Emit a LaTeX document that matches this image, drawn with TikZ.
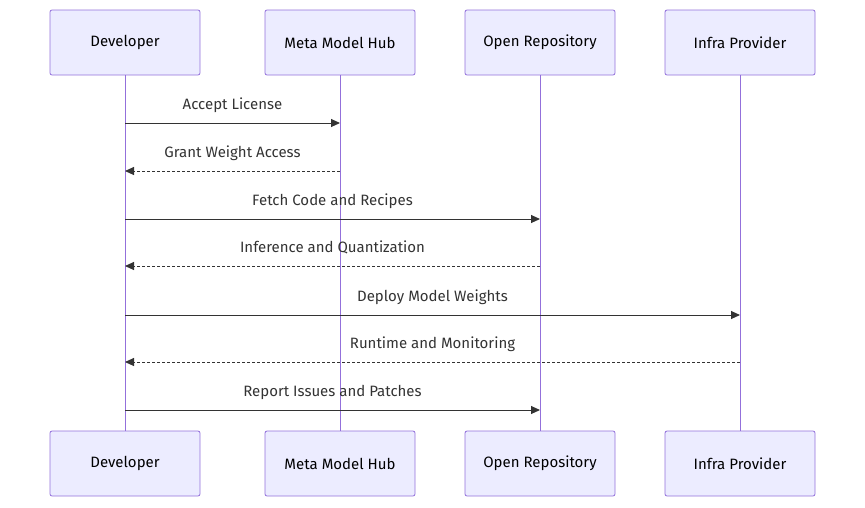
\documentclass[tikz,border=0pt]{standalone}
\usepackage{fontspec}
\setmainfont{Fira Sans}
\usetikzlibrary{arrows.meta,calc}
\definecolor{boxfill}{HTML}{ECECFF}
\definecolor{boxdraw}{HTML}{9370DB}
\definecolor{ink}{HTML}{333333}
\begin{document}
\begin{tikzpicture}[x=1pt,y=-1pt,
  actor/.style={draw=boxdraw,fill=boxfill,rounded corners=2pt,minimum width=150pt,minimum height=65pt,text=black,font=\fontsize{15}{18}\selectfont,line width=0.8pt},
  life/.style={draw=boxdraw,line width=1pt},
  msg/.style={draw=ink,line width=1pt,-{Triangle[length=9pt,width=8pt]}},
  reply/.style={msg,dash pattern=on 3pt off 2pt},
  lbl/.style={text=ink,font=\fontsize{15}{18}\selectfont,anchor=base}]
\useasboundingbox (0,0) rectangle (865,507);
\foreach \n/\x/\t in {a/125/Developer,b/340/Meta Model Hub,c/540/Open Repository,d/740/Infra Provider}{
  \node[actor] (\n1) at (\x,42.5) {\t};
  \node[actor] (\n2) at (\x,463.5) {\t};
  \draw[life] (\n1.south) -- (\n2.north);
}
\foreach \s/\t/\y/\st/\txt in {a/b/123/msg/Accept License,b/a/171/reply/Grant Weight Access,a/c/219/msg/Fetch Code and Recipes,c/a/266/reply/Inference and Quantization,a/d/315/msg/Deploy Model Weights,d/a/362/reply/Runtime and Monitoring,a/c/410/msg/Report Issues and Patches}{
  \coordinate (p\s) at (\s1.south |- 0,\y);
  \coordinate (q\t) at (\t1.south |- 0,\y);
  \draw[\st] (p\s) -- (q\t);
  \node[lbl] at ($(p\s)!0.5!(q\t)+(0,-14)$) {\txt};
}
\end{tikzpicture}
\end{document}
